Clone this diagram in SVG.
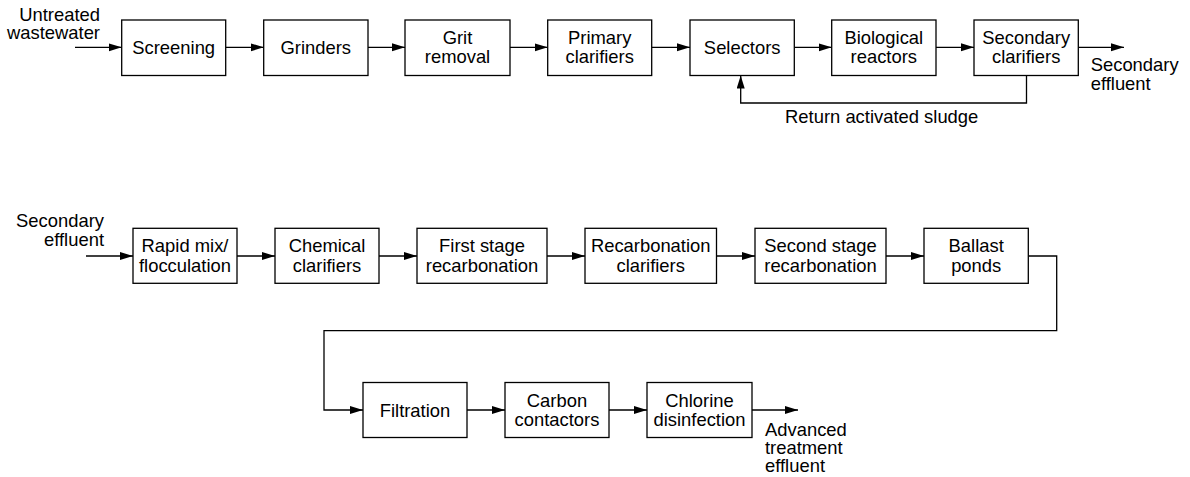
<svg xmlns="http://www.w3.org/2000/svg" width="1190" height="477" viewBox="0 0 1190 477">
<style>
.b{fill:#fff;stroke:#000;stroke-width:1.3}
.c{fill:none;stroke:#000;stroke-width:1.3}
text{font-family:"Liberation Sans",Arial,sans-serif;font-size:18.4px;fill:#000}
.m{text-anchor:middle}
.e{text-anchor:end}
</style>
<defs>
<marker id="a" markerUnits="userSpaceOnUse" markerWidth="14" markerHeight="9" refX="13" refY="4" orient="auto">
<path d="M0,0 L13,4 L0,8 Z" fill="#000"/>
</marker>
</defs>
<rect width="1190" height="477" fill="#fff"/>
<g id="connectors" class="c" marker-end="url(#a)">
<path d="M75,47.3 H121.7"/>
<path d="M225.7,47.3 H263.7"/>
<path d="M368,47.3 H405"/>
<path d="M510,47.3 H547.7"/>
<path d="M651.7,47.3 H690"/>
<path d="M794.3,47.3 H831.7"/>
<path d="M936,47.3 H974"/>
<path d="M1078.3,47.3 H1124"/>
<path d="M1026.5,75.5 V103 H740.7 V75.5"/>
<path d="M86,256 H133"/>
<path d="M237,256 H275"/>
<path d="M379,256 H417"/>
<path d="M547,256 H585"/>
<path d="M716.5,256 H755"/>
<path d="M886,256 H924"/>
<path d="M1028.3,256 H1056.7 V330.7 H324 V410 H363" />
<path d="M467,410 H505"/>
<path d="M609,410 H647"/>
<path d="M752,410 H798"/>
</g>
<g id="labels">
<text class="e" x="100" y="20.7">Untreated</text>
<text class="e" x="100" y="39.3">wastewater</text>
<text x="1090.7" y="71">Secondary</text>
<text x="1090.7" y="89.5">effluent</text>
<text class="m" x="881.7" y="123.3">Return activated sludge</text>
<text class="e" x="104" y="227.3">Secondary</text>
<text class="e" x="104" y="245.7">effluent</text>
<text x="765" y="435.7">Advanced</text>
<text x="765" y="453.5">treatment</text>
<text x="765" y="471.5">effluent</text>
</g>
<g id="screening"><rect class="b" x="121.7" y="20" width="104" height="55.5"/><text class="m" x="173.7" y="54.3">Screening</text></g>
<g id="grinders"><rect class="b" x="263.7" y="20" width="104.3" height="55.5"/><text class="m" x="315.8" y="54.3">Grinders</text></g>
<g id="grit"><rect class="b" x="405" y="20" width="105" height="55.5"/><text class="m" x="457.5" y="44">Grit</text><text class="m" x="457.5" y="63.3">removal</text></g>
<g id="primary"><rect class="b" x="547.7" y="20" width="104" height="55.5"/><text class="m" x="599.7" y="44">Primary</text><text class="m" x="599.7" y="63.3">clarifiers</text></g>
<g id="selectors"><rect class="b" x="690" y="20" width="104.3" height="55.5"/><text class="m" x="742.2" y="54.3">Selectors</text></g>
<g id="bio"><rect class="b" x="831.7" y="20" width="104.3" height="55.5"/><text class="m" x="883.8" y="44">Biological</text><text class="m" x="883.8" y="63.3">reactors</text></g>
<g id="secclar"><rect class="b" x="974" y="20" width="104.3" height="55.5"/><text class="m" x="1026.2" y="44">Secondary</text><text class="m" x="1026.2" y="63.3">clarifiers</text></g>
<g id="rapid"><rect class="b" x="133" y="228.3" width="104" height="55"/><text class="m" x="185" y="252.3">Rapid mix/</text><text class="m" x="185" y="271.6">flocculation</text></g>
<g id="chem"><rect class="b" x="275" y="228.3" width="104" height="55"/><text class="m" x="327" y="252.3">Chemical</text><text class="m" x="327" y="271.6">clarifiers</text></g>
<g id="first"><rect class="b" x="417" y="228.3" width="130" height="55"/><text class="m" x="482" y="252.3">First stage</text><text class="m" x="482" y="271.6">recarbonation</text></g>
<g id="recarb"><rect class="b" x="585" y="228.3" width="131.5" height="55"/><text class="m" x="650.7" y="252.3">Recarbonation</text><text class="m" x="650.7" y="271.6">clarifiers</text></g>
<g id="second"><rect class="b" x="755" y="228.3" width="131" height="55"/><text class="m" x="820.5" y="252.3">Second stage</text><text class="m" x="820.5" y="271.6">recarbonation</text></g>
<g id="ballast"><rect class="b" x="924" y="228.3" width="104.3" height="55"/><text class="m" x="976.2" y="252.3">Ballast</text><text class="m" x="976.2" y="271.6">ponds</text></g>
<g id="filtration"><rect class="b" x="363" y="382.5" width="104" height="55"/><text class="m" x="415" y="416.6">Filtration</text></g>
<g id="carbon"><rect class="b" x="505" y="382.5" width="104" height="55"/><text class="m" x="557" y="406.5">Carbon</text><text class="m" x="557" y="425.8">contactors</text></g>
<g id="chlorine"><rect class="b" x="647" y="382.5" width="105" height="55"/><text class="m" x="699.5" y="406.5">Chlorine</text><text class="m" x="699.5" y="425.8">disinfection</text></g>
</svg>
